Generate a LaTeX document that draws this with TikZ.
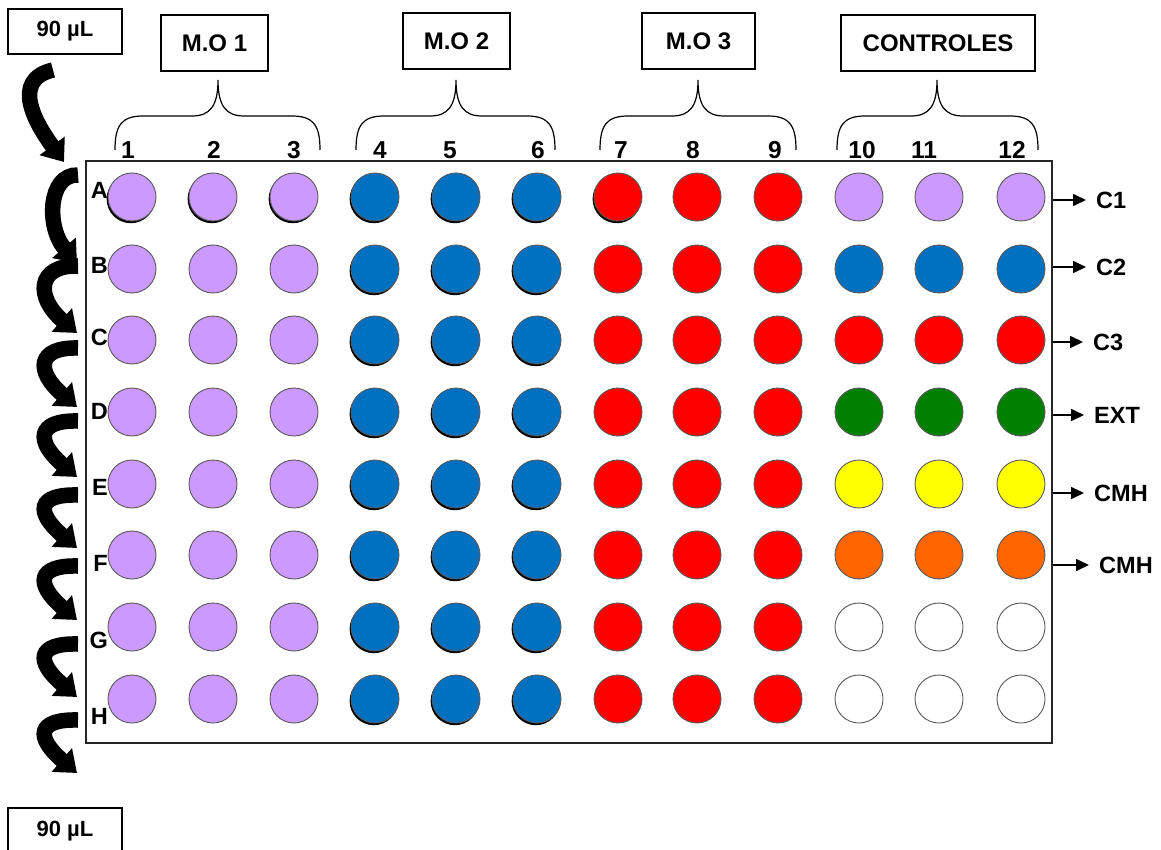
\documentclass[tikz,border=0pt]{standalone}
\usepackage{fontspec}
\setmainfont{Liberation Sans}
\usepackage{xcolor}
\usepackage{tikz}
\usetikzlibrary{arrows.meta, calc, positioning}

\definecolor{lilac}{RGB}{204,153,255}
\definecolor{wblue}{RGB}{0,112,192}
\definecolor{wred}{RGB}{255,0,0}
\definecolor{wgreen}{RGB}{0,128,0}
\definecolor{wyellow}{RGB}{255,255,0}
\definecolor{worange}{RGB}{255,102,0}

\begin{document}
\begin{tikzpicture}[x=1pt, y=-1pt, >=Stealth,
    lbl/.style={font=\bfseries\fontsize{23.5}{27}\selectfont, inner sep=1pt},
    num/.style={font=\bfseries\fontsize{24.5}{28}\selectfont, inner sep=0pt},
    hdr/.style={draw, line width=1.2pt, minimum height=56pt, font=\bfseries\fontsize{24}{28}\selectfont},
    vol/.style={draw, line width=1.2pt, minimum width=114pt, font=\bfseries\fontsize{22}{26}\selectfont},
    well/.style={circle, draw=black!65, line width=0.9pt, minimum size=48pt, inner sep=0pt},
    pipette/.style={line width=15.5pt, -{Triangle[length=20pt, width=30pt]}},
    ctlarrow/.style={line width=1.6pt, -{Triangle[length=13pt, width=12pt]}}]
    \useasboundingbox (0,0) rectangle (1161,850);

    % caixas de cima
    \node[vol, minimum height=45pt] (voltop) at (65,31.5) {90 µL};
    \node[hdr, minimum width=107pt] (mo1) at (214.5,43) {M.O 1};
    \node[hdr, minimum width=107pt] (mo2) at (456.5,41) {M.O 2};
    \node[hdr, minimum width=113pt] (mo3) at (698.5,41) {M.O 3};
    \node[hdr, minimum width=194pt] (ctrl) at (938,43) {CONTROLES};
    \node[vol, minimum height=46pt] (volbot) at (65,831) {90 µL};

    % chaves
    \foreach \l/\m/\r in {115/218/320, 356/456/555, 600/698/796, 837/937/1038}
        \draw[line width=1.2pt] (\l,150) .. controls (\l,126) and (\l+6,116) .. (\l+28,116)
            -- (\m-26,116) .. controls (\m-8,116) and (\m,106) .. (\m,80)
            .. controls (\m,106) and (\m+8,116) .. (\m+26,116)
            -- (\r-28,116) .. controls (\r-6,116) and (\r,126) .. (\r,150);

    % placa
    \node[draw=black!85, line width=1.6pt, minimum width=966pt, minimum height=582pt, inner sep=0pt] (plate) at (569,452) {};

    % colunas
    \foreach \c/\x in {1/128, 2/214, 3/294, 4/380, 5/450, 6/538, 7/621, 8/693, 9/775, 10/862, 11/924, 12/1012}
        \node[num, anchor=base] (col\c) at (\x,159) {\c};

    % sombra dos pocos
    \foreach \x in {375, 456, 537}
        \foreach \y in {197, 269, 340, 412, 484, 555, 627, 699}
            \fill[black] (\x-1.2,\y+2) circle (24.2pt);
    \foreach \x in {132, 213, 294, 618}
        \fill[black] (\x-1.2,199) circle (24.2pt);

    % pocos
    \foreach \r/\y/\ctl in {A/197/lilac, B/269/wblue, C/340/wred, D/412/wgreen, E/484/wyellow, F/555/worange, G/627/white, H/699/white}{
        \foreach \c/\x/\col in {1/132/lilac, 2/213/lilac, 3/294/lilac, 4/375/wblue, 5/456/wblue, 6/537/wblue, 7/618/wred, 8/697/wred, 9/778/wred, 10/859/\ctl, 11/939/\ctl, 12/1021/\ctl}
            \node[well, fill=\col] (w\r\c) at (\x,\y) {};
    }

    % linhas
    \foreach \r/\y in {A/190, B/265, C/337, D/411, E/487, F/563, G/640, H/716}
        \node[lbl, anchor=east] (row\r) at (109,\y) {\r};

    % controles
    \foreach \n/\y/\xl/\t in {c1/200/1095/C1, c2/267/1095/C2, c3/342/1092/C3, ext/415/1093/EXT, cmh1/493/1093/CMH, cmh2/565/1098/CMH}{
        \node[lbl, anchor=west] (\n) at (\xl,\y) {\t};
        \draw[ctlarrow] (plate.east |- \n.west) -- ([xshift=-9pt]\n.west);
    }

    % diluicao seriada
    \draw[pipette] (53,70) .. controls (10,80) and (36,124) .. (64,162);
    \foreach \t/\b/\cx in {167/263/48, 258/333/37, 340/407/37, 413/477/37, 487/548/37, 558/620/37, 636/697/37, 712/773/37}
        \draw[pipette] (78,\t+8) .. controls (\cx,\t+7) and (\cx-2,\b-36) .. (77,\b);
\end{tikzpicture}
\end{document}
